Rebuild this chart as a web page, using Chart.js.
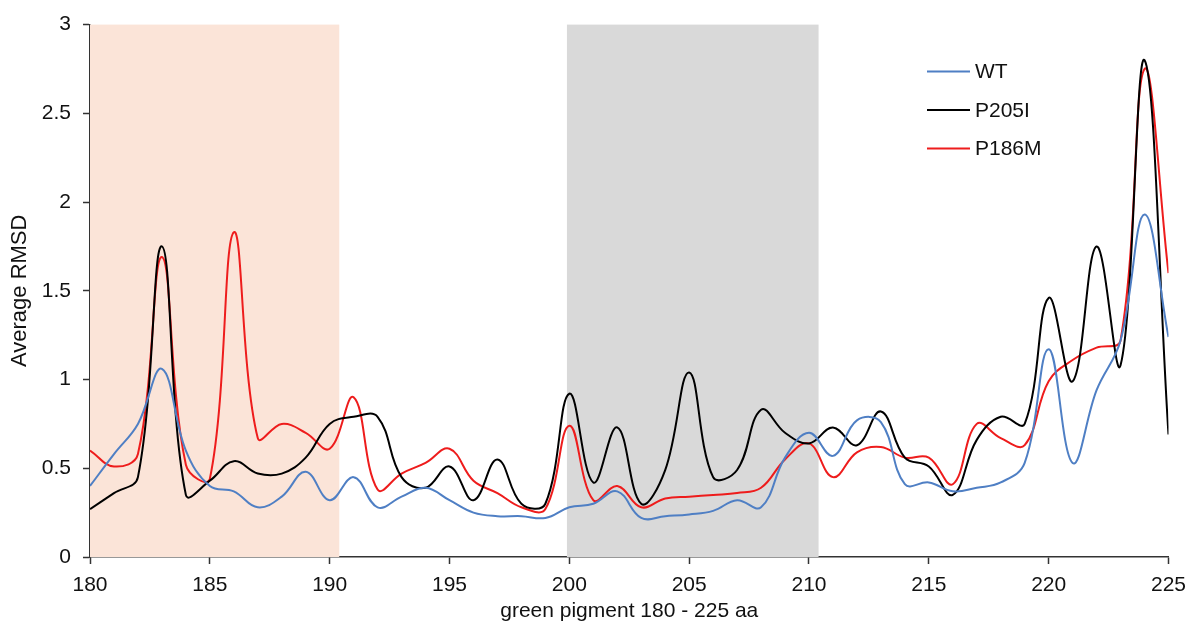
<!DOCTYPE html>
<html>
<head>
<meta charset="utf-8">
<script src="https://cdn.jsdelivr.net/npm/chart.js@4.4.1/dist/chart.umd.min.js"></script>
<style>
  html, body { margin: 0; padding: 0; background: #fff; }
  #wrap { width: 1195px; height: 628px; }
</style>
</head>
<body>
<div id="wrap"><canvas id="chart" width="1195" height="628"></canvas></div>
<script>
// residues 180..225
const residues = [180,181,182,183,184,185,186,187,188,189,190,191,192,193,194,195,196,197,198,199,200,201,202,203,204,205,206,207,208,209,210,211,212,213,214,215,216,217,218,219,220,221,222,223,224,225];

const wt    = [0.40,0.58,0.75,1.06,0.60,0.40,0.37,0.28,0.34,0.48,0.32,0.45,0.28,0.34,0.39,0.32,0.25,0.23,0.23,0.22,0.28,0.30,0.37,0.22,0.23,0.24,0.26,0.32,0.28,0.56,0.70,0.57,0.77,0.76,0.41,0.42,0.37,0.39,0.42,0.53,1.17,0.53,0.94,1.22,1.93,1.24];
const p205i = [0.27,0.36,0.45,1.75,0.35,0.43,0.54,0.47,0.47,0.56,0.75,0.79,0.79,0.45,0.39,0.51,0.32,0.55,0.30,0.30,0.92,0.42,0.73,0.30,0.49,1.04,0.45,0.49,0.83,0.70,0.64,0.73,0.63,0.82,0.56,0.51,0.35,0.66,0.79,0.75,1.46,0.99,1.75,1.08,2.80,0.69];
const p186m = [0.60,0.51,0.58,1.69,0.52,0.44,1.83,0.67,0.75,0.70,0.61,0.90,0.38,0.47,0.53,0.61,0.43,0.36,0.28,0.27,0.74,0.32,0.40,0.28,0.33,0.34,0.35,0.36,0.39,0.55,0.64,0.45,0.59,0.62,0.56,0.56,0.41,0.75,0.67,0.63,0.99,1.11,1.18,1.22,2.75,1.60];

// shaded residue ranges
const bandStart = [180, 199.9];
const bandEnd   = [190.4, 210.4];
const bandColor = ['#fbe4d8', '#d9d9d9'];

const yTicks = [0, 0.5, 1, 1.5, 2, 2.5, 3];

const FONT = '"Liberation Sans", Arial, Helvetica, sans-serif';

function pts(vals) {
  return residues.map((r, i) => ({ x: r, y: vals[i] }));
}

const bands = {
  id: 'bands',
  beforeDatasetsDraw(chart) {
    const { ctx, chartArea, scales } = chart;
    ctx.save();
    bandStart.forEach((s, i) => {
      const x1 = scales.x.getPixelForValue(s);
      const x2 = scales.x.getPixelForValue(bandEnd[i]);
      ctx.fillStyle = bandColor[i];
      ctx.fillRect(x1, chartArea.top, x2 - x1, chartArea.bottom - chartArea.top);
    });
    ctx.restore();
  }
};

const insideLegend = {
  id: 'insideLegend',
  afterDatasetsDraw(chart) {
    const { ctx, chartArea } = chart;
    ctx.save();
    ctx.font = '21px ' + FONT;
    ctx.textBaseline = 'middle';
    chart.data.datasets.forEach((ds, i) => {
      const y = chartArea.top + 47 + i * 38.5;
      const x = chartArea.left + 837;
      ctx.strokeStyle = ds.borderColor;
      ctx.lineWidth = 2;
      ctx.beginPath();
      ctx.moveTo(x, y);
      ctx.lineTo(x + 43, y);
      ctx.stroke();
      ctx.fillStyle = '#111';
      ctx.fillText(ds.label, x + 48, y + 1);
    });
    ctx.restore();
  }
};

new Chart(document.getElementById('chart'), {
  type: 'line',
  data: {
    datasets: [
      { label: 'WT', data: pts(wt), borderColor: '#4f7fc4' },
      { label: 'P205I', data: pts(p205i), borderColor: '#000000' },
      { label: 'P186M', data: pts(p186m), borderColor: '#ee1c1c' }
    ]
  },
  options: {
    responsive: false,
    animation: false,
    layout: { padding: { top: 22, right: 26, left: 3, bottom: 0 } },
    elements: {
      line: { borderWidth: 2, tension: 0.4, fill: false },
      point: { radius: 0 }
    },
    plugins: {
      legend: { display: false },
      tooltip: { enabled: false }
    },
    scales: {
      x: {
        type: 'linear',
        min: 180,
        max: 225,
        ticks: { stepSize: 5, color: '#111', font: { size: 21, family: FONT }, padding: 9, maxRotation: 0 },
        grid: { display: true, drawOnChartArea: false, drawTicks: true, tickLength: 7, tickColor: '#333', tickWidth: 1.5 },
        border: { color: '#333', width: 1.5 },
        title: { display: true, text: 'green pigment 180 - 225 aa', color: '#111', font: { size: 21, family: FONT }, padding: { top: 0 } },
        afterFit(s) { s.height = 628 - 557; }
      },
      y: {
        min: 0,
        max: 3,
        afterBuildTicks(s) { s.ticks = yTicks.map(v => ({ value: v })); },
        ticks: { color: '#111', font: { size: 21, family: FONT }, padding: 12, callback: v => String(v) },
        grid: { display: true, drawOnChartArea: false, drawTicks: true, tickLength: 7, tickColor: '#333', tickWidth: 1.5 },
        border: { color: '#333', width: 1.5 },
        title: { display: true, text: 'Average RMSD', color: '#111', font: { size: 22, family: FONT }, padding: { top: 4, bottom: 4 } },
        afterFit(s) { s.width = 87; }
      }
    }
  },
  plugins: [bands, insideLegend]
});
</script>
</body>
</html>
